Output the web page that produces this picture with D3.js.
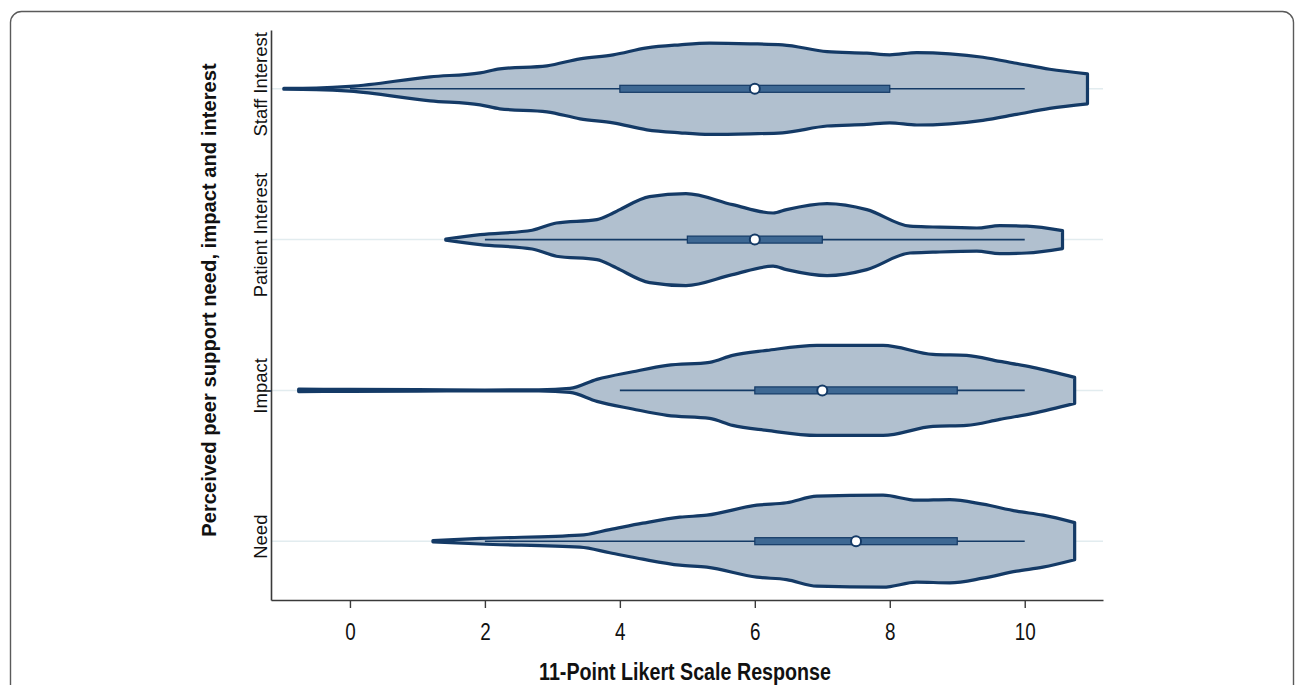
<!DOCTYPE html>
<html>
<head>
<meta charset="utf-8">
<script src="https://cdn.jsdelivr.net/npm/d3@7"></script>
<style>
  html, body { margin: 0; padding: 0; background: #fff; }
  svg { display: block; }
</style>
</head>
<body>
<svg id="chart"></svg>
<script>
// Violin plot: perceived peer support need, impact and interest (11-point Likert)

const categories = ['Need', 'Impact', 'Patient Interest', 'Staff Interest'];
const xTicks = [0, 2, 4, 6, 8, 10];

// Kernel density outlines: [response, density]
const needDensity = [
    [1.23, 0.003], [1.93, 0.014], [3.41, 0.030], [3.85, 0.058], [4.34, 0.090],
    [4.89, 0.120], [5.29, 0.130], [6.03, 0.180], [6.47, 0.192], [6.92, 0.225],
    [7.9, 0.230], [8.4, 0.205], [8.89, 0.208], [9.38, 0.185], [9.88, 0.150],
    [10.27, 0.130], [10.74, 0.093]
];
const impactDensity = [
    [-0.76, 0.006], [0, 0.005], [1, 0.004], [2, 0.002], [2.8, 0.003],
    [3.26, 0.010], [3.66, 0.055], [4.19, 0.093], [4.7, 0.125], [5.33, 0.140],
    [5.67, 0.175], [6.18, 0.200], [6.92, 0.225], [7.9, 0.225], [8.64, 0.180],
    [9.14, 0.175], [9.63, 0.145], [10.12, 0.115], [10.74, 0.065]
];
const patientDensity = [
    [1.42, 0.003], [1.93, 0.025], [2.7, 0.047], [3.06, 0.083], [3.66, 0.100],
    [3.9, 0.133], [4.0, 0.150], [4.44, 0.215], [4.98, 0.230], [5.67, 0.175],
    [6.27, 0.133], [6.47, 0.150], [7.07, 0.180], [7.66, 0.150], [8.3, 0.067],
    [8.64, 0.063], [9.29, 0.058], [9.63, 0.070], [10.03, 0.067], [10.56, 0.045]
];
const staffDensity = [
    [-0.98, 0.002], [-0.5, 0.004], [0, 0.012], [1.19, 0.060], [1.93, 0.080],
    [2.22, 0.100], [2.92, 0.115], [3.41, 0.150], [3.9, 0.170], [4.4, 0.205],
    [4.89, 0.220], [5.33, 0.228], [5.93, 0.225], [6.41, 0.220], [7.07, 0.186],
    [7.66, 0.178], [8.0, 0.170], [8.4, 0.181], [8.89, 0.175], [9.38, 0.158],
    [9.88, 0.128], [10.37, 0.098], [10.93, 0.075]
];

// Box summaries, same order as categories
const medians = [7.5, 7, 6, 6];
const q1s = [6, 6, 5, 4];
const q3s = [9, 9, 7, 8];
const whiskerLow = [2, 4, 2, 0];
const whiskerHigh = [10, 10, 10, 10];

const densities = [needDensity, impactDensity, patientDensity, staffDensity];

const width = 1295, height = 685;
const plot = { left: 271, right: 1103, top: 30, bottom: 600 };

const navy = '#143a66';
const violinFill = '#b1c0cf';
const boxFill = '#3e6893';
const axisColor = '#3a3a3a';
const font = "'Liberation Sans', Arial, sans-serif";
// the reference uses a condensed face for horizontal text; squeeze it
const narrowScale = 0.82;

const svg = d3.select('#chart')
    .attr('width', width)
    .attr('height', height);

// Outer rounded frame
svg.append('rect')
    .attr('x', 10.5)
    .attr('y', 11.5)
    .attr('width', 1283)
    .attr('height', 700)
    .attr('rx', 11)
    .attr('fill', 'none')
    .attr('stroke', '#5a5a5a')
    .attr('stroke-width', 1.4);

// Scales
const xScale = d3.scaleLinear()
    .domain([-1.17, 11.16])
    .range([plot.left, plot.right]);

const yScale = d3.scalePoint()
    .domain(categories)
    .range([plot.bottom, plot.top])
    .padding(0.39);

const wScale = d3.scaleLinear()
    .domain([0, 0.23])
    .range([0, 46]);

// Light grid line through each category
svg.append('g')
    .selectAll('line')
    .data(categories)
    .join('line')
    .attr('x1', plot.left)
    .attr('x2', plot.right)
    .attr('y1', d => yScale(d))
    .attr('y2', d => yScale(d))
    .attr('stroke', '#e2ecef')
    .attr('stroke-width', 1.5);

// Violins
const area = d3.area()
    .curve(d3.curveMonotoneX)
    .x(d => xScale(d[0]));

svg.append('g')
    .selectAll('path')
    .data(categories)
    .join('path')
    .attr('d', (c, i) => {
        const cy = yScale(c);
        return area
            .y0(d => cy - wScale(d[1]))
            .y1(d => cy + wScale(d[1]))(densities[i]);
    })
    .attr('fill', violinFill)
    .attr('stroke', navy)
    .attr('stroke-width', 3.2)
    .attr('stroke-linejoin', 'round');

// Whiskers
svg.append('g')
    .selectAll('line')
    .data(categories)
    .join('line')
    .attr('x1', (c, i) => xScale(whiskerLow[i]))
    .attr('x2', (c, i) => xScale(whiskerHigh[i]))
    .attr('y1', c => yScale(c))
    .attr('y2', c => yScale(c))
    .attr('stroke', navy)
    .attr('stroke-width', 1.6);

// Interquartile boxes
svg.append('g')
    .selectAll('rect')
    .data(categories)
    .join('rect')
    .attr('x', (c, i) => xScale(q1s[i]))
    .attr('width', (c, i) => xScale(q3s[i]) - xScale(q1s[i]))
    .attr('y', c => yScale(c) - 3.5)
    .attr('height', 7)
    .attr('fill', boxFill)
    .attr('stroke', navy)
    .attr('stroke-width', 1.2);

// Median markers
svg.append('g')
    .selectAll('circle')
    .data(categories)
    .join('circle')
    .attr('cx', (c, i) => xScale(medians[i]))
    .attr('cy', c => yScale(c))
    .attr('r', 5)
    .attr('fill', '#fff')
    .attr('stroke', navy)
    .attr('stroke-width', 2);

// X axis
const xAxis = svg.append('g')
    .attr('transform', `translate(0,${plot.bottom})`)
    .call(d3.axisBottom(xScale)
        .tickValues(xTicks)
        .tickSize(8)
        .tickSizeOuter(0)
        .tickPadding(16));

xAxis.select('.domain').attr('stroke', axisColor).attr('stroke-width', 1.6);
xAxis.selectAll('.tick line').attr('stroke', axisColor).attr('stroke-width', 1.4);
xAxis.selectAll('.tick text')
    .attr('fill', '#111')
    .attr('transform', `scale(${narrowScale},1)`)
    .style('font-family', font)
    .style('font-size', '23px');

// Y axis
const yAxis = svg.append('g')
    .attr('transform', `translate(${plot.left},0)`)
    .call(d3.axisLeft(yScale).tickSize(0).tickSizeOuter(0));

yAxis.select('.domain').attr('stroke', axisColor).attr('stroke-width', 1.6);
yAxis.selectAll('.tick text')
    .attr('x', 0)
    .attr('dy', null)
    .attr('text-anchor', 'middle')
    .attr('transform', 'translate(-4,-5) rotate(-90)')
    .attr('fill', '#111')
    .style('font-family', font)
    .style('font-size', '18.5px');

// Axis titles
svg.append('g')
    .attr('transform', `translate(${(plot.left + plot.right) / 2 - 2},680)`)
    .append('text')
    .attr('transform', `scale(${narrowScale},1)`)
    .attr('text-anchor', 'middle')
    .attr('fill', '#111')
    .style('font-family', font)
    .style('font-weight', 'bold')
    .style('font-size', '24px')
    .text('11-Point Likert Scale Response');

svg.append('text')
    .attr('transform', 'translate(216,300) rotate(-90)')
    .attr('text-anchor', 'middle')
    .attr('fill', '#111')
    .style('font-family', font)
    .style('font-weight', 'bold')
    .style('font-size', '20.2px')
    .text('Perceived peer support need, impact and interest');
</script>
</body>
</html>
